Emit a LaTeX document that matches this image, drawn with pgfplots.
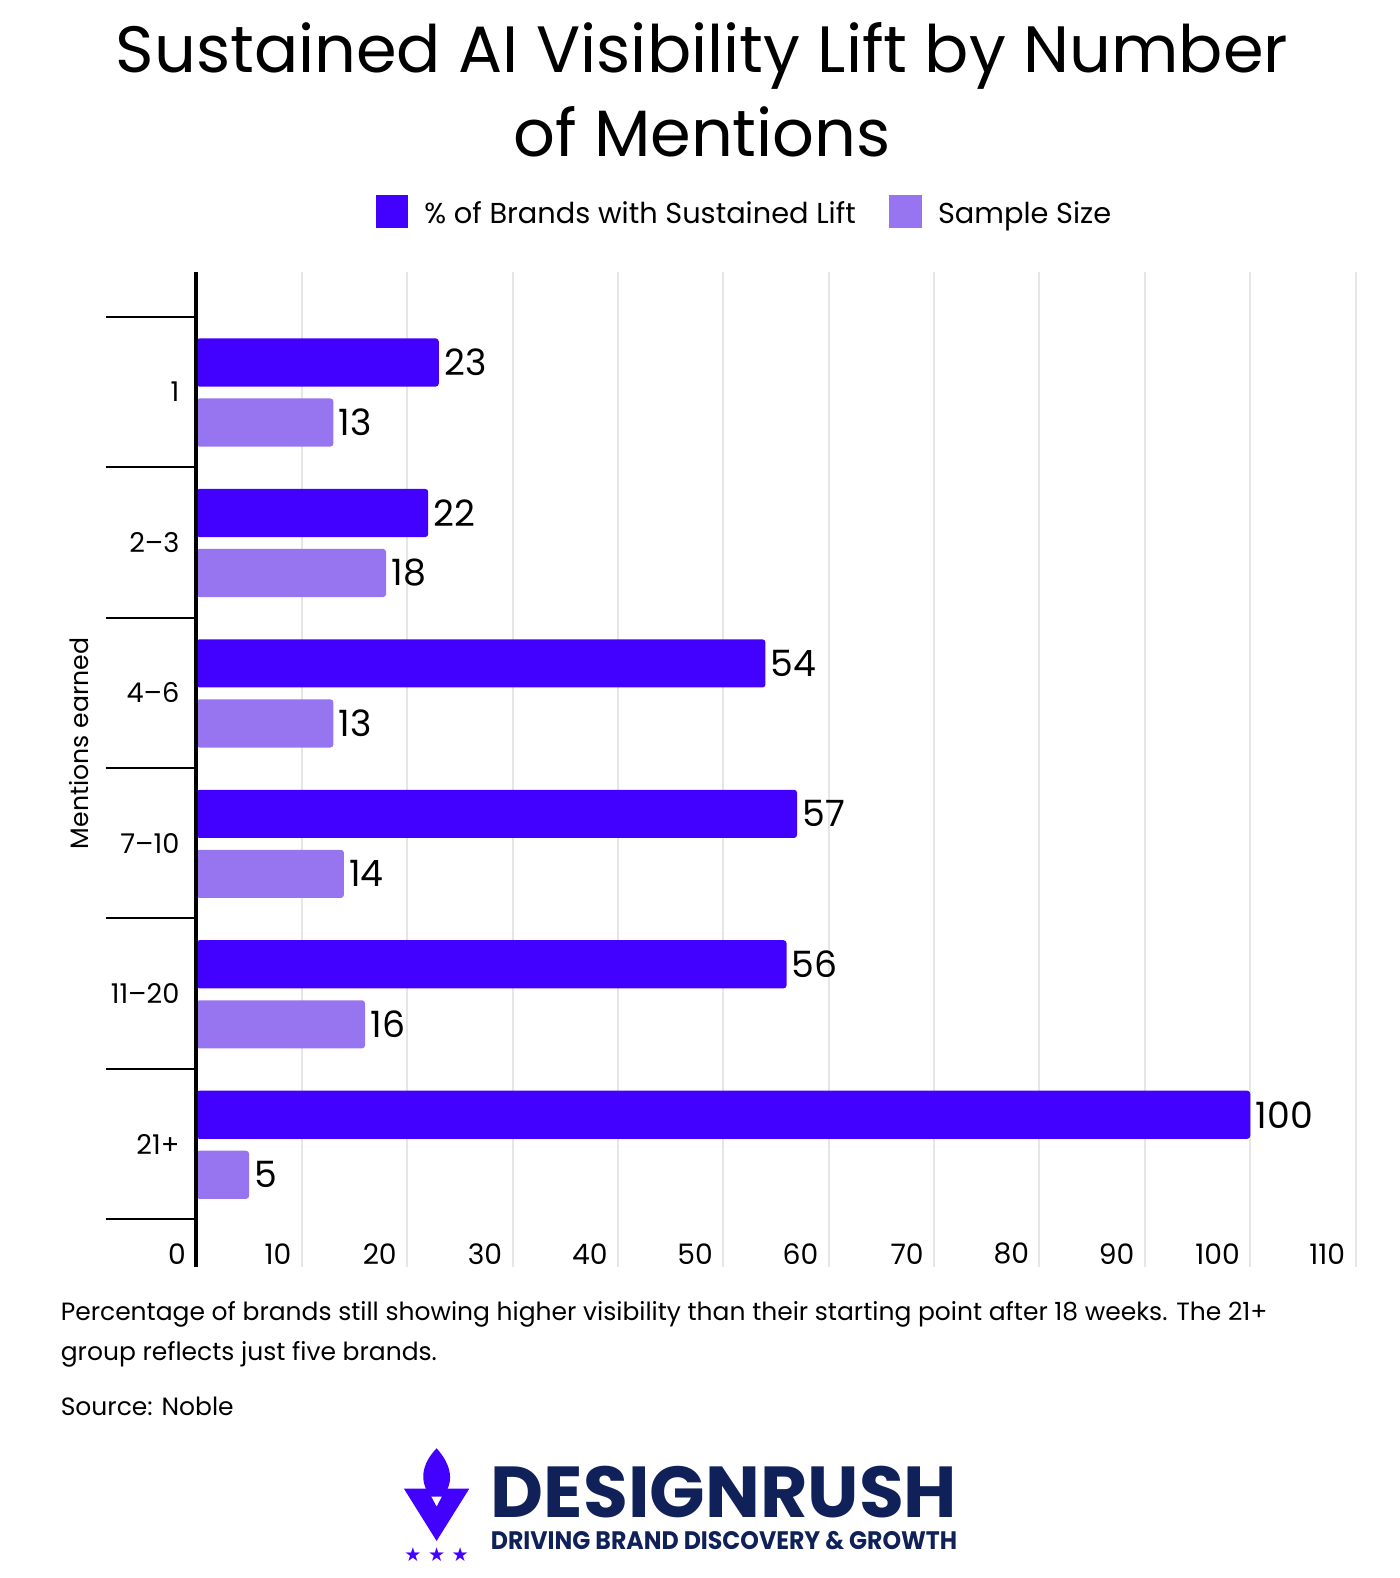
\documentclass[border=0pt]{standalone}
\usepackage{fontspec}
\setmainfont{Poppins}
\newfontfamily\dejavu{DejaVu Sans}
\usepackage{graphicx}
\usepackage{pgfplots}
\pgfplotsset{compat=1.18}
\definecolor{cA}{HTML}{4200FF}
\definecolor{cB}{HTML}{9775F0}
\definecolor{navy}{HTML}{10215A}
\definecolor{gridc}{HTML}{E6E6E6}
\begin{document}%
\begin{tikzpicture}[x=1pt,y=1pt]%
\path[use as bounding box] (0,0) rectangle (695,-783.4);
% title
\node[anchor=base, font=\fontsize{32.5}{38}\selectfont] at (348.5,-36) {Sustained AI Visibility Lift by Number};
\node[anchor=base, font=\fontsize{32.5}{38}\selectfont] at (348.5,-77.5) {of Mentions};
% legend
\fill[cA] (186.5,-97) rectangle (202.5,-113);
\node[anchor=base west, inner sep=0pt, font=\fontsize{14.3}{18}\selectfont] at (210.5,-111) {\% of Brands with Sustained Lift};
\fill[cB] (441.5,-97) rectangle (457.5,-113);
\node[anchor=base west, inner sep=0pt, font=\fontsize{14.3}{18}\selectfont] at (465.5,-111) {Sample Size};
% y label
\node[rotate=90, anchor=center, font=\fontsize{12.5}{15}\selectfont] at (39,-369) {Mentions earned};
\begin{axis}[
  at={(97.5pt,-629pt)}, anchor=south west,
  scale only axis, width=575.5pt, height=494pt,
  xmin=0, xmax=110, ymin=-0.797, ymax=5.817, y dir=reverse,
  xbar, bar width=0.32,
  axis lines*=left,
  x axis line style={draw=none},
  y axis line style={draw=none},
  xtick={0,10,...,110},
  xmajorgrids, grid style={gridc, line width=1pt},
  major x tick style={draw=none},
  ytick={0,...,5},
  yticklabels={{1},{2–3},{4–6},{7–10},{11–20},{21+}},
  major y tick style={draw=none},
  /pgf/number format/assume math mode=true,
  xticklabel style={anchor=east, inner sep=0pt, xshift=-5pt, yshift=6.5pt, font=\fontsize{14}{16}\selectfont},
  yticklabel style={anchor=east, inner sep=0pt, xshift=-4pt, font=\fontsize{13.5}{16}\selectfont},
  nodes near coords,
  every node near coord/.append style={anchor=west, inner sep=2.5pt, font=\fontsize{18}{20}\selectfont, black},
  clip=false,
]
\addplot[fill=cA, draw=none, bar shift=-0.195, rounded corners=1.5pt] coordinates {(23,0) (22,1) (54,2) (57,3) (56,4) (100,5)};
\addplot[fill=cB, draw=none, bar shift=0.204, rounded corners=1.5pt] coordinates {(13,0) (18,1) (13,2) (14,3) (16,4) (5,5)};
\draw[line width=2pt, black] (axis cs:0,-0.797) -- (axis cs:0,5.817);
\draw[line width=1pt, black] ([xshift=-45pt]axis cs:0,-0.5) -- (axis cs:0,-0.5);
\draw[line width=1pt, black] ([xshift=-45pt]axis cs:0,0.5) -- (axis cs:0,0.5);
\draw[line width=1pt, black] ([xshift=-45pt]axis cs:0,1.5) -- (axis cs:0,1.5);
\draw[line width=1pt, black] ([xshift=-45pt]axis cs:0,2.5) -- (axis cs:0,2.5);
\draw[line width=1pt, black] ([xshift=-45pt]axis cs:0,3.5) -- (axis cs:0,3.5);
\draw[line width=1pt, black] ([xshift=-45pt]axis cs:0,4.5) -- (axis cs:0,4.5);
\draw[line width=1pt, black] ([xshift=-45pt]axis cs:0,5.5) -- (axis cs:0,5.5);
\end{axis}
% caption
\node[anchor=base west, inner sep=0pt, font=\fontsize{12.4}{15}\selectfont] at (30,-655.5) {Percentage of brands still showing higher visibility than their starting point after 18 weeks. The 21+};
\node[anchor=base west, inner sep=0pt, font=\fontsize{12.4}{15}\selectfont] at (30,-675.5) {group reflects just five brands.};
\node[anchor=base west, inner sep=0pt, font=\fontsize{12.4}{15}\selectfont] at (30,-702.5) {Source: Noble};
% logo
\node[anchor=south west, inner sep=0pt, text=navy] at (243.5,-754) {\resizebox{231.5pt}{25.5pt}{\bfseries DESIGNRUSH}};
\node[anchor=south west, inner sep=0pt, text=navy] at (243.5,-769.5) {\resizebox{231.5pt}{9pt}{\bfseries DRIVING BRAND DISCOVERY \& GROWTH}};
\fill[cA] (200.5,-739) -- (212,-739) -- (216.75,-748) -- (221.5,-739) -- (233,-739) -- (216.75,-765) -- cycle;
\fill[cA] (216.75,-719) .. controls (209,-727) and (208,-736) .. (214,-743) -- (219.5,-743) .. controls (226,-736) and (224,-727) .. (216.75,-719) -- cycle;
\node[text=cA, font=\dejavu\fontsize{9.5}{10}\selectfont, inner sep=0pt] at (205,-772) {★};
\node[text=cA, font=\dejavu\fontsize{9.5}{10}\selectfont, inner sep=0pt] at (216.75,-772) {★};
\node[text=cA, font=\dejavu\fontsize{9.5}{10}\selectfont, inner sep=0pt] at (228.5,-772) {★};
\end{tikzpicture}%
\end{document}
